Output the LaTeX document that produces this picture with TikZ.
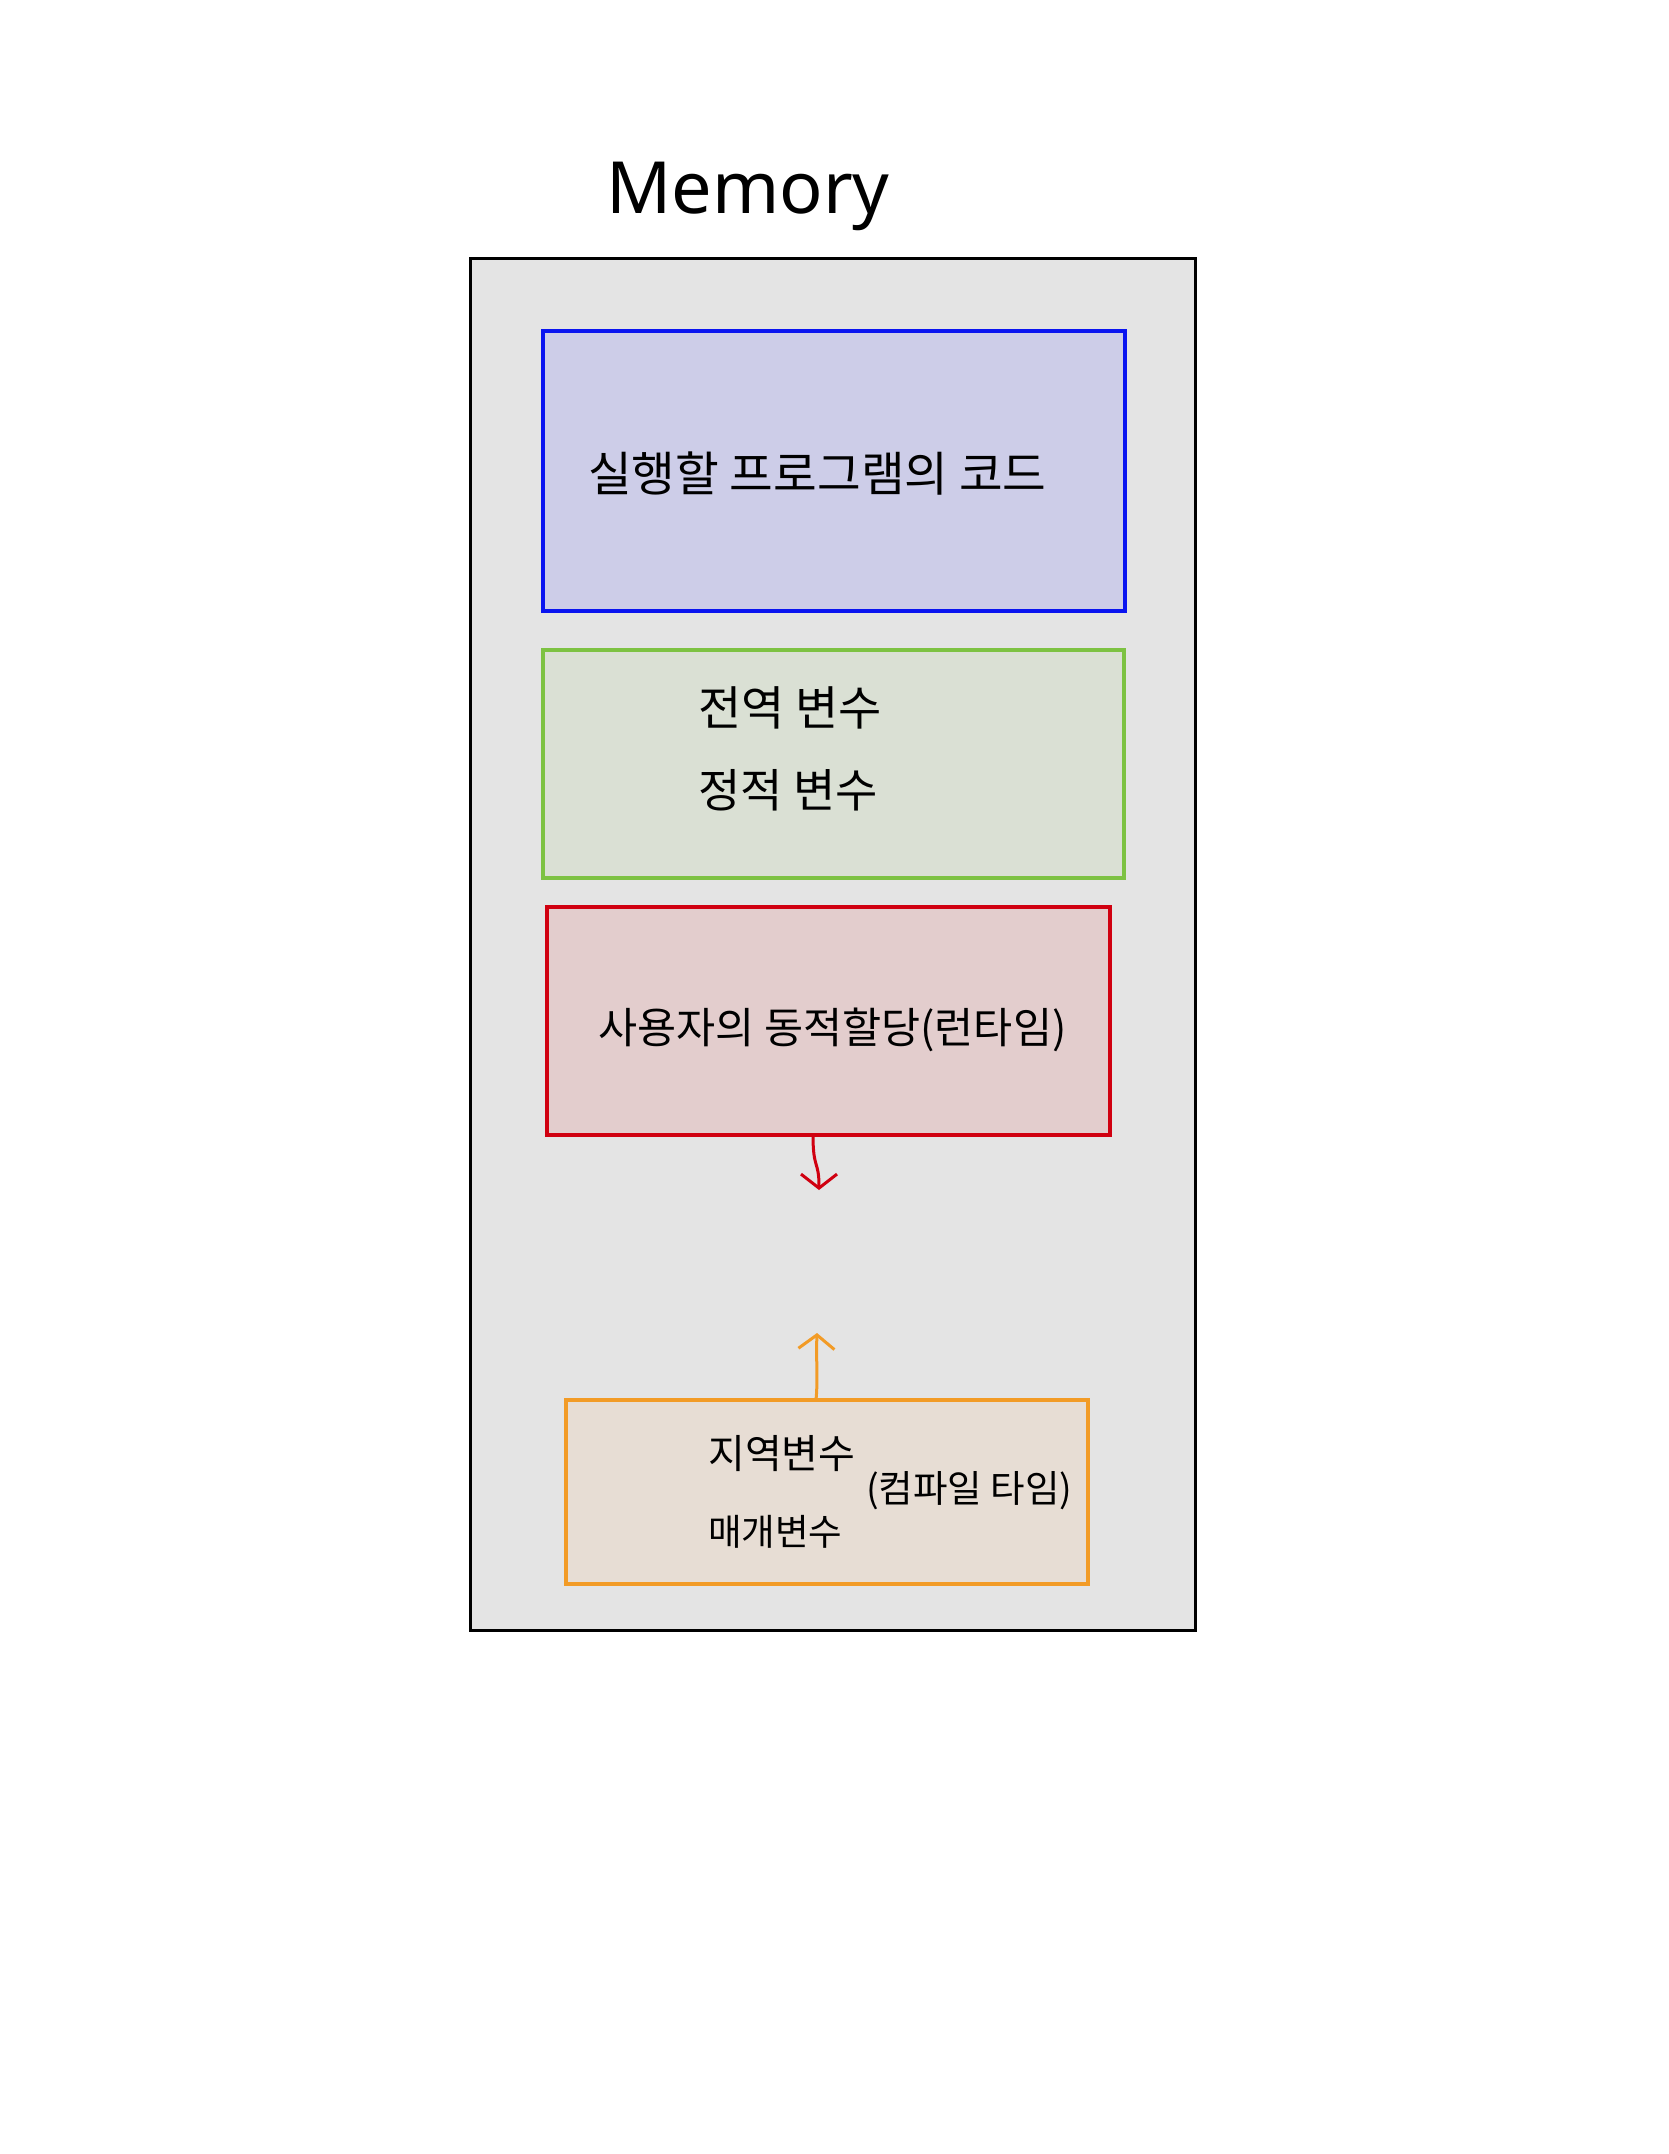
\documentclass[tikz,border=0pt]{standalone}
\usepackage{fontspec}
\newfontfamily\kr{Noto Sans CJK KR}
\setmainfont{Noto Sans}
\usetikzlibrary{arrows.meta}
\definecolor{memfill}{HTML}{E4E4E4}
\definecolor{bluefill}{HTML}{CDCDE8}
\definecolor{bluedraw}{HTML}{0A14F0}
\definecolor{greenfill}{HTML}{DAE0D4}
\definecolor{greendraw}{HTML}{7DC242}
\definecolor{redfill}{HTML}{E3CDCD}
\definecolor{reddraw}{HTML}{D00010}
\definecolor{orangefill}{HTML}{E7DDD4}
\definecolor{orangedraw}{HTML}{F29B26}
\tikzset{
  region/.style={draw, line width=3.5pt, inner sep=0pt, outer sep=0pt},
  krtext/.style={font=\kr\fontsize{40}{48}\selectfont, inner sep=0pt, anchor=west},
  growarrow/.style={line width=3pt, -{Straight Barb[length=14pt,width=36pt,line width=3pt]}},
}
\begin{document}
\begin{tikzpicture}[x=1pt,y=-1pt]
\useasboundingbox[fill=white] (0,0) rectangle (1668,2154);
% outer memory block
\node[region, draw=black, line width=3pt, fill=memfill, minimum width=725pt, minimum height=1372pt, anchor=north west] (mem) at (470,258) {};
\node[font=\fontsize{72}{80}\selectfont, inner sep=0pt] (title) at (748,196) {Memory};
% code
\node[region, draw=bluedraw, fill=bluefill, minimum width=582pt, minimum height=280pt, anchor=north west] (code) at (543,331) {};
\node[krtext, font=\kr\fontsize{47.5}{54}\selectfont] (codet) at (588,474) {실행할 프로그램의 코드};
% data
\node[region, draw=greendraw, fill=greenfill, minimum width=581pt, minimum height=228pt, anchor=north west] (data) at (543,650) {};
\node[krtext, font=\kr\fontsize{47}{54}\selectfont] (data1) at (698,708) {전역 변수};
\node[krtext, font=\kr\fontsize{46}{54}\selectfont] (data2) at (698,790) {정적 변수};
% heap
\node[region, draw=reddraw, fill=redfill, minimum width=563pt, minimum height=228pt, anchor=north west] (heap) at (547,907) {};
\node[krtext, font=\kr\fontsize{42.5}{50}\selectfont] (heapt) at (598,1030) {사용자의 동적할당(런타임)};
% stack
\node[region, draw=orangedraw, fill=orangefill, minimum width=522pt, minimum height=184pt, anchor=north west] (stack) at (566,1400) {};
\node[krtext, font=\kr\fontsize{40}{48}\selectfont] (stack1) at (708,1454) {지역변수};
\node[krtext, font=\kr\fontsize{36.5}{44}\selectfont] (stack2) at (708,1532) {매개변수};
\node[krtext, font=\kr\fontsize{37.5}{44}\selectfont] (stack3) at (866,1491) {(컴파일 타임)};
% growth arrows
\coordinate (heapend) at (819,1190);
\coordinate (stackend) at (817,1333);
\draw[growarrow, draw=reddraw] (heap.south -| 813,0) .. controls (813,1170) and (819,1160) .. (heapend);
\draw[growarrow, draw=orangedraw] (stack.north -| 816,0) .. controls (818,1380) and (816,1360) .. (stackend);
\end{tikzpicture}
\end{document}
